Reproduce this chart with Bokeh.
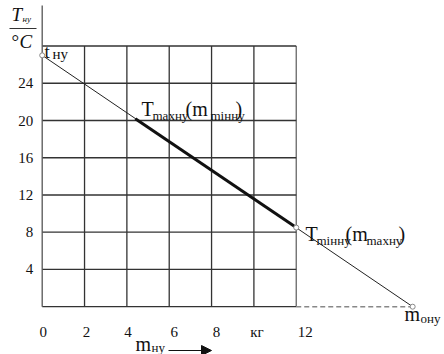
from bokeh.plotting import figure
from bokeh.models import Range1d, Arrow, NormalHead
from bokeh.core.properties import value
from bokeh.embed import file_html
from bokeh.resources import INLINE

# ---- data ----
x_ticks = [0, 2, 4, 6, 8, 10, 12]
x_tick_labels = ["0", "2", "4", "6", "8", "кг", "12"]
y_ticks = [0, 4, 8, 12, 16, 20, 24, 28]
y_tick_labels = ["", "4", "8", "12", "16", "20", "24", ""]
line_m = [0, 17.5]
line_T = [27, 0]
thick_m = [4.4, 12]
thick_T = [20.2, 8.5]
dash_m = [12, 17.5]
dash_T = [0, 0]
pts_m = [0, 12, 17.5]
pts_T = [27, 8.5, 0]

# ---- layout ----
W, H = 444, 354
X0PX, Y0PX = 41.7, 306.2      # pixel of (0, 0)
XS, YS = 21.17, 9.31          # pixels per unit
xtick_nudge_px = [1, 2, 1, 5, 5, 3, 9]
FONT = value("Liberation Serif")

def px2x(px):
    return (px - X0PX) / XS

def px2y(py):
    return (Y0PX - py) / YS

p = figure(width=W, height=H, output_backend="svg", toolbar_location=None,
           x_range=Range1d(px2x(0), px2x(W)), y_range=Range1d(px2y(H), px2y(0)),
           min_border=0, min_border_left=0, min_border_right=0,
           min_border_top=0, min_border_bottom=0)
p.axis.visible = False
p.grid.visible = False
p.outline_line_color = None
p.background_fill_color = "white"
p.border_fill_color = "white"

GRID = "#333333"
xmax, ymax = x_ticks[-1], y_ticks[-1]
# vertical grid lines
p.segment(x0=x_ticks[1:-1], y0=[0] * (len(x_ticks) - 2), x1=x_ticks[1:-1],
          y1=[ymax] * (len(x_ticks) - 2), line_color=GRID, line_width=1.3)
p.segment(x0=[xmax], y0=[0], x1=[xmax], y1=[ymax], line_color="#666666", line_width=1.3)
# horizontal grid lines
p.segment(x0=[0] * len(y_ticks), y0=y_ticks, x1=[xmax] * len(y_ticks), y1=y_ticks,
          line_color=GRID, line_width=1.3)
# left axis line
p.segment(x0=[0], y0=[0], x1=[0], y1=[px2y(5)], line_color="#555555", line_width=1.3)

# dashed continuation
p.line(dash_m, dash_T, line_color="#888888", line_width=1.5, line_dash="5 3")
# main line
p.line(line_m, line_T, line_color="#222222", line_width=1)
p.line(thick_m, thick_T, line_color="#111111", line_width=3)
p.scatter(pts_m, pts_T, size=5, marker="circle", fill_color="white",
          line_color="#888888", line_width=1)

# tick labels
p.text(x=[0] * len(y_ticks), y=y_ticks, text=y_tick_labels, text_font=FONT,
       text_font_size="15px", text_align="right", text_baseline="middle",
       x_offset=-9, text_color="#111111")
p.text(x=[t + n / XS for t, n in zip(x_ticks, xtick_nudge_px)],
       y=[px2y(331)] * len(x_ticks), text=x_tick_labels, text_font=FONT,
       text_font_size="15px", text_align="center", text_baseline="middle",
       text_color="#111111")

def txt(px, base_py, s, size, style="normal"):
    # base_py: alphabetic baseline in pixels; drawn with a middle baseline
    cy = base_py - 0.34 * size
    p.text(x=[px2x(px)], y=[px2y(cy)], text=[s], text_font=FONT,
           text_font_size=f"{size}px", text_font_style=style, text_align="left",
           text_baseline="middle", text_color="#111111")

# y-axis title  T_ну / °C
txt(11, 20, "T", 19, "italic")
txt(22, 22, "ну", 9, "italic")
p.segment(x0=[px2x(9)], y0=[px2y(28)], x1=[px2x(36)], y1=[px2y(28)],
          line_color="#333333", line_width=1.2)
txt(11, 47, "°", 19)
txt(19, 47, "C", 19, "italic")

# t_ну
txt(44, 57, "t", 19)
txt(52, 59, "ну", 15)

# T_maxну(m_мінну)
txt(141, 115, "T", 20)
txt(152, 119, "maxну", 13)
txt(185, 115, "(m", 20)
txt(210, 119, "mінну", 13)
txt(235, 115, ")", 20)

# T_мінну(m_maxну)
txt(305, 240, "T", 20)
txt(316, 244, "mінну", 13)
txt(345, 240, "(m", 20)
txt(366, 244, "maxну", 13)
txt(398, 240, ")", 20)

# m_ону
txt(404, 320, "m", 20)
txt(420, 322, "ону", 13)

# m_ну with arrow
txt(135, 350, "m", 20)
txt(151, 351, "ну", 13)
p.add_layout(Arrow(x_start=px2x(168), y_start=px2y(350), x_end=px2x(211), y_end=px2y(350),
                   line_color="#111111", line_width=1.2,
                   end=NormalHead(size=10, fill_color="#111111", line_color="#111111")))

open("out.html", "w").write(file_html(p, INLINE))
